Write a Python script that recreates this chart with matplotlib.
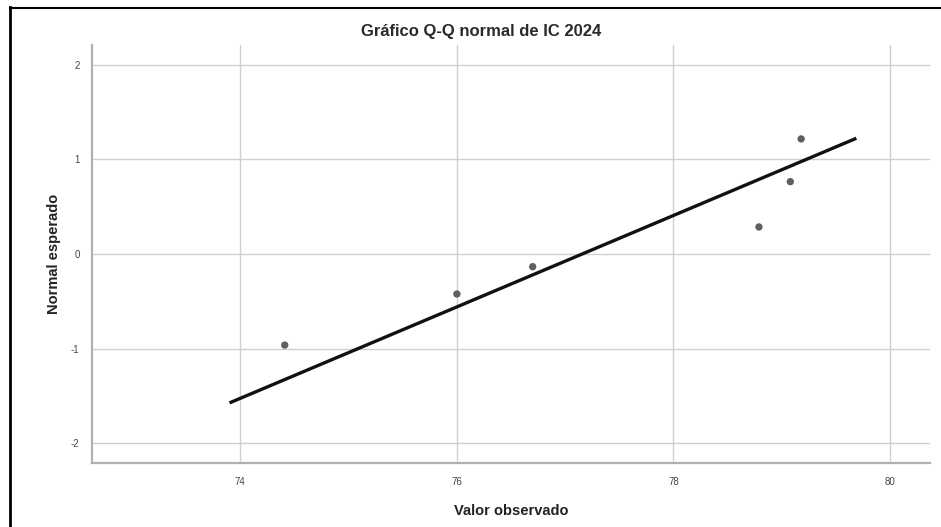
import matplotlib
matplotlib.use("Agg")
import matplotlib.pyplot as plt
from matplotlib.lines import Line2D

# Observed values of IC 2024 and their expected normal scores
observed = [74.41, 76.00, 76.70, 78.79, 79.08, 79.18]
expected = [-0.963, -0.423, -0.134, 0.286, 0.765, 1.217]

# Reference line endpoints (observed, expected)
ref_x = [73.90, 79.69]
ref_y = [-1.574, 1.224]

x_ticks = [74, 76, 78, 80]
y_ticks = [-2, -1, 0, 1, 2]

title = "Gráfico Q-Q normal de IC 2024"
x_label = "Valor observado"
y_label = "Normal esperado"

plt.rcParams["font.family"] = ["Liberation Sans", "DejaVu Sans"]
plt.rcParams["axes.unicode_minus"] = False

fig = plt.figure(figsize=(9.41, 5.27), dpi=100)
ax = fig.add_axes([0.0978, 0.1214, 0.8905, 0.7932])

ax.set_xlim(72.63, 80.37)
ax.set_ylim(-2.21, 2.21)
ax.set_xticks(x_ticks)
ax.set_yticks(y_ticks)

ax.grid(True, color="#d0d0d0", linewidth=1.0)
ax.set_axisbelow(True)

for side in ("top", "right"):
    ax.spines[side].set_visible(False)
for side in ("left", "bottom"):
    ax.spines[side].set_color("#b0b0b0")
    ax.spines[side].set_linewidth(1.6)

ax.tick_params(axis="both", length=0, labelsize=7, labelcolor="#444444")
ax.tick_params(axis="x", pad=10)
ax.tick_params(axis="y", pad=9)

ax.plot(ref_x, ref_y, color="#111111", linewidth=2.4, solid_capstyle="butt", zorder=3)
ax.scatter(observed, expected, s=28, color="#606060", edgecolors="none", zorder=4)

fig.text(0.511, 0.940, title, ha="center", va="center", fontsize=12,
         fontweight="bold", color="#2a2a2a")
ax.set_xlabel(x_label, fontsize=10.5, fontweight="bold", color="#222222", labelpad=12)
ax.set_ylabel(y_label, fontsize=10.5, fontweight="bold", color="#222222", labelpad=7)

# Outer black frame along top and left edges
fig.add_artist(Line2D([9.5 / 941, 1.0], [1 - 7.5 / 527, 1 - 7.5 / 527],
                      transform=fig.transFigure, color="black", linewidth=1.5))
fig.add_artist(Line2D([10 / 941, 10 / 941], [1 - 7 / 527, 0.0],
                      transform=fig.transFigure, color="black", linewidth=2.0))

fig.savefig("out.png", dpi=100)
